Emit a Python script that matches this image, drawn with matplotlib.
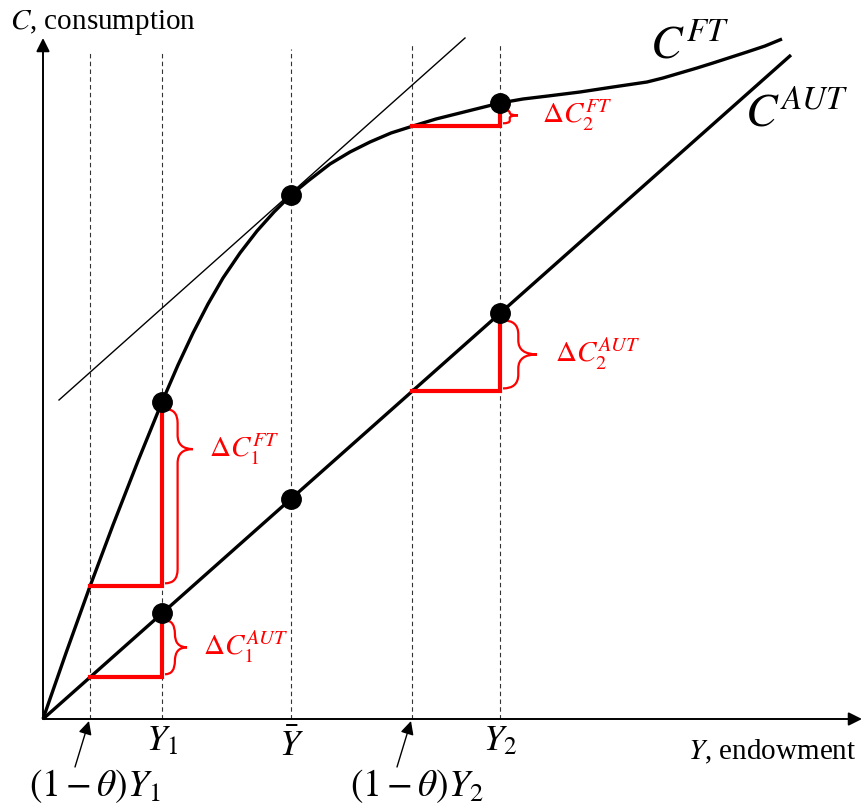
import numpy as np
import matplotlib.pyplot as plt
from matplotlib.path import Path
from matplotlib.patches import PathPatch

plt.rcParams['font.family'] = ['Liberation Serif', 'DejaVu Serif']
plt.rcParams['mathtext.fontset'] = 'stix'

# точки на оси Y (endowment)
theta_y1, y1, y_bar, theta_y2, y2 = 47, 119, 248, 369, 457
tick_x = [theta_y1, y1, y_bar, theta_y2, y2]
dash_top = [667, 667, 670, 675, 675]

# кривая C^FT
ft_y = [0, 23, 46, 70, 95, 119, 135, 150, 165, 180, 197, 214, 231, 248, 265, 287,
        307, 327, 348, 370, 393, 417, 437, 457, 480, 505, 537, 570, 604, 620, 637,
        654, 670, 687, 704, 722, 739]
ft_c = [0, 66, 130, 194, 258, 317, 354, 386, 415, 441, 466, 488, 507, 524, 538, 555,
        567, 577, 586, 593, 600, 606, 611, 616, 620, 623, 627, 632, 637, 641, 646,
        651, 656, 661.5, 667, 673, 680]

# прямая C^AUT
aut_y = [0, 748]
aut_c = [0, 664]

# касательная в точке Y bar
tan_y = [16, 422]
tan_c = [319, 681]

RED = '#ff0000'


def c_ft(x):
    return np.interp(x, ft_y, ft_c)


def c_aut(x):
    return np.interp(x, aut_y, aut_c)


def brace(ax, x, y_lo, y_hi, width, tip_frac=0.5, color=RED, lw=1.6):
    """Фигурная скобка, открытая влево, острие вправо"""
    xm = x + width * 0.45
    ym = y_lo + (y_hi - y_lo) * tip_frac
    r = min(14, (y_hi - ym) / 2, (ym - y_lo) / 2)
    verts = [(x, y_hi), (xm, y_hi), (xm, y_hi - r),
             (xm, ym + r), (xm, ym), (x + width, ym),
             (x + width, ym), (xm, ym), (xm, ym - r),
             (xm, y_lo + r), (xm, y_lo), (x, y_lo)]
    codes = [Path.MOVETO, Path.CURVE3, Path.CURVE3,
             Path.LINETO, Path.CURVE3, Path.CURVE3,
             Path.MOVETO, Path.CURVE3, Path.CURVE3,
             Path.LINETO, Path.CURVE3, Path.CURVE3]
    ax.add_patch(PathPatch(Path(verts, codes), fill=False, edgecolor=color, lw=lw))
    return x + width, ym


fig = plt.figure(figsize=(8.63, 8.11), dpi=100)
ax = fig.add_axes([0, 0, 1, 1])
ax.set_xlim(-43, 820)
ax.set_ylim(-92, 719)
ax.axis('off')

# оси со стрелками
arrow_kw = dict(arrowstyle='-|>', color='black', lw=1.4, mutation_scale=20,
                shrinkA=0, shrinkB=0)
ax.annotate('', xy=(819, 0), xytext=(0, 0), arrowprops=arrow_kw)
ax.annotate('', xy=(0, 681), xytext=(0, 0), arrowprops=arrow_kw)

# пунктирные вертикали
for x, top in zip(tick_x, dash_top):
    ax.plot([x, x], [0, top], color='#333333', lw=0.8, linestyle=(0, (4, 3)))

# кривые
ax.plot(tan_y, tan_c, color='black', lw=1.0)
ax.plot(ft_y, ft_c, color='black', lw=2.4, solid_capstyle='butt', solid_joinstyle='round')
ax.plot(aut_y, aut_c, color='black', lw=2.4, solid_capstyle='butt')

# красные приращения и скобки
pairs = [(theta_y1, y1, c_ft, 28, 0.77, r'$\Delta C_1^{FT}$', 16),
         (theta_y1, y1, c_aut, 22, 0.5, r'$\Delta C_1^{AUT}$', 16),
         (theta_y2, y2, c_ft, 15, 0.6, r'$\Delta C_2^{FT}$', 24),
         (theta_y2, y2, c_aut, 34, 0.5, r'$\Delta C_2^{AUT}$', 18)]
for x0, x1, f, w, frac, label, pad in pairs:
    c0, c1 = f(x0), f(x1)
    ax.plot([x0, x1, x1], [c0, c0, c1], color=RED, lw=3, solid_joinstyle='miter')
    tx, ty = brace(ax, x1 + 3, c0 + 3, c1 - 7, w, frac)
    ax.text(tx + pad, ty, label, color=RED, fontsize=21, va='center', ha='left')

# точки
pts = [y1, y_bar, y2]
ax.plot(pts, c_ft(pts), 'o', color='black', ms=14, zorder=5)
ax.plot(pts, c_aut(pts), 'o', color='black', ms=14, zorder=5)

# подписи кривых
ax.text(607, 671, r'$C^{FT}$', fontsize=34, va='center', ha='left')
ax.text(702, 604, r'$C^{AUT}$', fontsize=34, va='center', ha='left')

# подписи осей
ax.text(-33, 711, r'$C$, consumption', fontsize=21, va='top', ha='left')
ax.text(645, -19, r'$Y$, endowment', fontsize=21, va='top', ha='left')

# подписи на оси X
ax.text(y1, -6, r'$Y_1$', fontsize=26, va='top', ha='center')
ax.text(y_bar, -11, r'$\bar{Y}$', fontsize=26, va='top', ha='center')
ax.text(y2, -6, r'$Y_2$', fontsize=26, va='top', ha='center')
for t, lab in [(theta_y1, r'$(1-\theta)Y_1$'), (theta_y2, r'$(1-\theta)Y_2$')]:
    ax.text(t + 5, -48, lab, fontsize=27, va='top', ha='center')
    ax.annotate('', xy=(t - 1, -2), xytext=(t - 15, -48),
                arrowprops=dict(arrowstyle='-|>', color='black', lw=1.0,
                                mutation_scale=20, shrinkA=0, shrinkB=0))

plt.savefig('out.png', dpi=100)
